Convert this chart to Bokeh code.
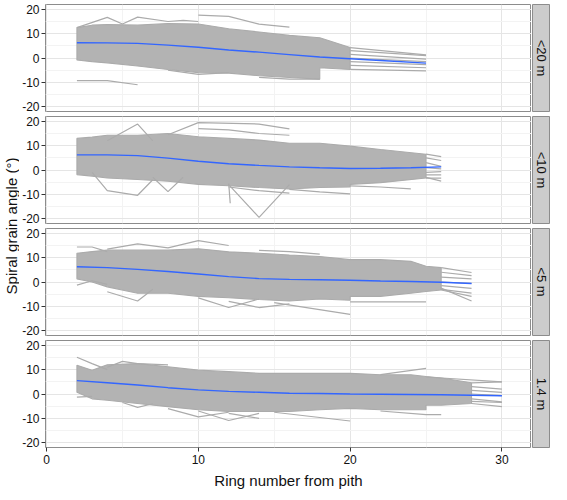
import math
from bokeh.plotting import figure
from bokeh.layouts import row, column
from bokeh.models import Range1d, FixedTicker
from bokeh.core.properties import value
from bokeh.embed import file_html
from bokeh.resources import INLINE

# ---------------- data ----------------
facet_labels = ["<20 m", "<10 m", "<5 m", "1.4 m"]
x_ticks = [0, 10, 20, 30]
x_minor = [5, 15, 25]
y_ticks = [-20, -10, 0, 10, 20]
y_minor = [-15, -5, 5, 15]
x_title = "Ring number from pith"
y_title = "Spiral grain angle (°)"

# facet 1: <20 m  (dense band of tree profiles, outlying profiles, smoother)
f1_env_ring = [2, 3, 4, 6, 8, 10, 12, 14, 16, 18, 18, 20]
f1_env_upper = [12.5, 13.5, 13.8, 13.5, 14.2, 14.0, 12.0, 10.7, 9.3, 8.3, 8.3, 4.3]
f1_env_lower = [-0.8, -1.5, -2.0, -3.3, -4.7, -6.0, -6.2, -7.3, -8.0, -8.7, -4.0, -4.7]
f1_lines_x = [[2, 4, 6], [2, 4, 5, 6, 8, 9, 10], [10, 12, 14, 16], [8, 10, 12], [14, 16, 18],
              [20, 25], [20, 25], [20, 25], [20, 25], [20, 25], [20, 25], [20, 25]]
f1_lines_y = [[-9.3, -9.3, -11.0], [12.5, 16.7, 14.0, 16.8, 15.0, 15.5, 15.0],
              [17.6, 17.1, 13.9, 12.7], [-5.0, -6.7, -6.0], [-8.0, -8.7, -8.7],
              [4.3, 1.3], [3.0, 1.0], [1.5, -0.5], [0.0, -1.5], [-1.5, -2.7], [-3.0, -4.0], [-4.7, -5.3]]
f1_smooth_ring = [2, 4, 6, 8, 10, 12, 14, 16, 18, 20, 22, 25]
f1_smooth = [6.3, 6.2, 6.0, 5.3, 4.4, 3.3, 2.4, 1.4, 0.4, -0.3, -1.0, -2.1]

# facet 2: <10 m
f2_env_ring = [2, 3, 4, 6, 8, 10, 12, 14, 16, 18, 20, 20, 22, 25]
f2_env_upper = [13.0, 13.5, 14.3, 14.3, 15.0, 13.7, 13.0, 12.3, 11.0, 11.0, 9.8, 9.8, 8.4, 6.5]
f2_env_lower = [-1.9, -2.5, -3.3, -3.9, -4.6, -5.9, -6.5, -7.2, -7.8, -7.2, -7.0, -5.9, -5.2, -3.3]
f2_lines_x = [[8, 10, 14, 16], [10, 12, 14, 16], [4, 6, 7], [3, 4, 6, 7], [7, 8, 9], [12, 12.1],
              [12, 14, 16], [12, 14, 16], [16, 18, 20], [20, 22, 24],
              [25, 26], [25, 26], [25, 26], [25, 26], [25, 26], [25, 26], [25, 26], [25, 26]]
f2_lines_y = [[14.5, 19.5, 18.9, 16.9], [17.0, 16.5, 15.0, 14.3], [12.0, 18.9, 12.0],
              [-1.0, -8.5, -10.4, -4.0], [-3.0, -8.9, -3.0], [-5.5, -13.7],
              [-6.0, -19.5, -6.0], [-7.0, -8.5, -9.5], [-8.0, -9.0, -9.8], [-6.5, -7.0, -7.8],
              [6.5, 5.5], [5.0, 3.9], [3.0, 1.5], [1.0, 0.5], [-1.0, -0.7], [-2.0, -2.0],
              [-3.3, -3.3], [-3.0, -4.6]]
f2_smooth_ring = [2, 4, 6, 8, 10, 12, 14, 16, 18, 20, 22, 24, 26]
f2_smooth = [6.2, 6.2, 5.9, 4.9, 3.6, 2.6, 1.9, 1.3, 0.9, 0.6, 0.7, 0.9, 1.3]

# facet 3: <5 m
f3_env_ring = [2, 3, 4, 6, 8, 10, 12, 14, 16, 18, 20, 20, 22, 24, 25, 26]
f3_env_upper = [11.8, 12.5, 13.1, 13.1, 13.1, 13.7, 12.4, 11.8, 11.1, 10.5, 9.2, 9.2, 9.2, 8.5, 6.5, 5.9]
f3_env_lower = [1.3, 0.0, -2.0, -4.6, -4.6, -5.9, -6.5, -7.2, -7.8, -7.0, -7.5, -5.9, -5.9, -4.6, -3.9, -3.3]
f3_lines_x = [[2, 3, 4], [4, 6, 8, 10, 12], [14, 16, 18], [2, 3, 4], [4, 6, 7], [10, 12, 14],
              [12, 14, 16], [15, 20], [20, 25],
              [26, 28], [26, 28], [26, 28], [26, 28], [26, 28], [26, 28], [26, 28], [26, 28]]
f3_lines_y = [[14.4, 14.4, 12.5], [13.5, 15.7, 14.0, 17.0, 15.0], [13.0, 12.5, 11.5],
              [-1.3, 0.5, -1.0], [-4.0, -7.8, -3.0], [-6.5, -10.5, -7.0], [-8.0, -10.5, -9.0],
              [-8.5, -13.3], [-8.2, -8.2],
              [5.9, 3.9], [4.0, 2.6], [2.0, 1.3], [0.0, -0.6], [-1.5, -2.6], [-3.0, -4.6],
              [-3.3, -5.9], [-2.5, -7.8]]
f3_smooth_ring = [2, 4, 6, 8, 10, 12, 14, 16, 18, 20, 22, 24, 26, 28]
f3_smooth = [6.3, 5.9, 5.2, 4.3, 3.3, 2.2, 1.4, 1.1, 0.9, 0.7, 0.4, 0.2, -0.1, -0.6]

# facet 4: 1.4 m
f4_env_ring = [2, 3, 4, 6, 8, 10, 12, 14, 16, 18, 20, 22, 24, 25, 25, 26, 28]
f4_env_upper = [11.8, 9.8, 12.0, 12.5, 11.2, 9.8, 9.2, 8.5, 8.5, 8.5, 8.5, 7.9, 7.9, 7.2, 7.2, 6.6, 4.6]
f4_env_lower = [0.7, -2.0, -2.6, -3.9, -5.2, -6.5, -7.2, -7.2, -7.2, -6.5, -5.9, -6.5, -6.5, -6.5, -4.6, -4.6, -3.9]
f4_lines_x = [[2, 3, 4], [4, 5, 6, 8], [2, 3], [5, 6, 7], [8, 10, 12], [10, 12, 14], [12, 14],
              [15, 20], [22, 25], [22, 25, 26], [25, 30],
              [28, 30], [28, 30], [28, 30], [28, 30], [28, 30], [28, 30], [28, 30]]
f4_lines_y = [[15.1, 12.5, 10.0], [11.0, 13.4, 12.5, 12.0], [-1.3, -1.0], [-3.5, -5.5, -4.0],
              [-6.0, -9.4, -7.5], [-7.0, -10.9, -8.0], [-8.0, -10.0], [-7.5, -11.1],
              [8.0, 10.5], [-7.0, -8.5, -8.5], [7.0, 5.0],
              [4.6, 5.0], [3.0, 2.0], [1.5, 0.7], [0.0, -0.7], [-2.0, -3.2], [-3.9, -5.2], [-3.0, -3.5]]
f4_smooth_ring = [2, 4, 6, 8, 10, 12, 14, 16, 18, 20, 22, 24, 26, 28, 30]
f4_smooth = [5.5, 4.6, 3.7, 2.6, 1.7, 1.1, 0.7, 0.3, 0.2, 0.0, -0.1, -0.2, -0.3, -0.5, -0.7]

facets = [
    (f1_env_ring, f1_env_upper, f1_env_lower, f1_lines_x, f1_lines_y, f1_smooth_ring, f1_smooth),
    (f2_env_ring, f2_env_upper, f2_env_lower, f2_lines_x, f2_lines_y, f2_smooth_ring, f2_smooth),
    (f3_env_ring, f3_env_upper, f3_env_lower, f3_lines_x, f3_lines_y, f3_smooth_ring, f3_smooth),
    (f4_env_ring, f4_env_upper, f4_env_lower, f4_lines_x, f4_lines_y, f4_smooth_ring, f4_smooth),
]

# ---------------- styling ----------------
FONT = "Liberation Sans"
GREY_FILL = "#b3b3b3"
GREY_LINE = "#ababab"
BLUE = "#3366ff"
BORDER = "#8c8c8c"
FRAME_W = 486
FRAME_H = 107
LEFT = 26
STRIP_W = 18
YLAB_W = 19
GAP_TOP = 3
GAP_BOTTOM = 2
FIRST_TOP = 4
LAST_BOTTOM = 36

rows = []
n = len(facets)
for i, (er, eu, el, lx, ly, sr, sv) in enumerate(facets):
    top = FIRST_TOP if i == 0 else GAP_TOP
    last = (i == n - 1)
    bottom = LAST_BOTTOM if last else GAP_BOTTOM
    p = figure(frame_width=FRAME_W, frame_height=FRAME_H,
               x_range=Range1d(-0.07, 31.95), y_range=Range1d(-22, 22),
               x_axis_location="below" if last else None,
               output_backend="svg", toolbar_location=None,
               min_border_left=LEFT, min_border_right=0,
               min_border_top=top, min_border_bottom=bottom,
               background_fill_color="white", border_fill_color="white",
               outline_line_color=BORDER, outline_line_width=1)
    p.xgrid.ticker = FixedTicker(ticks=x_ticks, minor_ticks=x_minor)
    p.ygrid.ticker = FixedTicker(ticks=y_ticks, minor_ticks=y_minor)
    for g in (p.xgrid, p.ygrid):
        g.grid_line_color = "#e5e5e5"
        g.grid_line_width = 1
        g.minor_grid_line_color = "#f3f3f3"
        g.minor_grid_line_width = 1
    ya = p.yaxis[0]
    ya.ticker = FixedTicker(ticks=y_ticks)
    ya.major_label_overrides = {-20: "-20", -10: "-10"}
    ya.axis_line_color = None
    ya.major_tick_line_color = "#333333"
    ya.major_tick_out = 4
    ya.major_tick_in = 0
    ya.minor_tick_line_color = None
    ya.major_label_standoff = 2
    ya.major_label_text_font = FONT
    ya.major_label_text_font_size = "12px"
    ya.major_label_text_color = "#111111"
    if last:
        xa = p.xaxis[0]
        xa.ticker = FixedTicker(ticks=x_ticks)
        xa.axis_line_color = None
        xa.major_tick_line_color = "#333333"
        xa.major_tick_out = 4
        xa.major_tick_in = 0
        xa.minor_tick_line_color = None
        xa.major_label_standoff = 3
        xa.major_label_text_font = FONT
        xa.major_label_text_font_size = "12px"
        xa.major_label_text_color = "#111111"
        xa.axis_label = x_title
        xa.axis_label_text_font = FONT
        xa.axis_label_text_font_size = "15px"
        xa.axis_label_text_font_style = "normal"
        xa.axis_label_standoff = 5
        xa.axis_label_text_color = "#111111"

    # dense band of individual tree profiles
    p.patch(list(er) + list(er)[::-1], list(eu) + list(el)[::-1],
            fill_color=GREY_FILL, line_color=GREY_LINE, line_width=1.1)
    # outlying individual profiles
    p.multi_line(xs=lx, ys=ly, line_color=GREY_LINE, line_width=1.2)
    # smoother
    p.line(sr, sv, line_color=BLUE, line_width=1.4)

    # facet strip on the right
    s = figure(frame_width=STRIP_W, frame_height=FRAME_H,
               x_range=Range1d(0, 1), y_range=Range1d(0, 1),
               x_axis_location=None, y_axis_location=None,
               output_backend="svg", toolbar_location=None,
               min_border_left=1, min_border_right=0,
               min_border_top=top, min_border_bottom=bottom,
               background_fill_color="#cccccc", border_fill_color="white",
               outline_line_color=BORDER)
    s.xgrid.visible = False
    s.ygrid.visible = False
    s.text(x=[0.5], y=[0.5], text=[facet_labels[i]], angle=-math.pi / 2,
           text_align="center", text_baseline="middle",
           text_font=value(FONT), text_font_size="13px", text_color="#111111")
    rows.append(row(p, s))

# y-axis title column
TOTAL_H = 483
frames_top = FIRST_TOP
frames_bottom = FIRST_TOP + n * FRAME_H + (n - 1) * (GAP_TOP + GAP_BOTTOM)
frames_center = (frames_top + frames_bottom) / 2.0
yl = figure(frame_width=YLAB_W, frame_height=TOTAL_H,
            x_range=Range1d(0, YLAB_W), y_range=Range1d(TOTAL_H, 0),
            x_axis_location=None, y_axis_location=None,
            output_backend="svg", toolbar_location=None,
            min_border=0, outline_line_color=None,
            background_fill_color="white", border_fill_color="white")
yl.xgrid.visible = False
yl.ygrid.visible = False
yl.text(x=[10.5], y=[frames_center], text=[y_title], angle=math.pi / 2,
        text_align="center", text_baseline="middle",
        text_font=value(FONT), text_font_size="15px", text_color="#111111")

layout = row(yl, column(*rows))
open("out.html", "w").write(file_html(layout, INLINE))
